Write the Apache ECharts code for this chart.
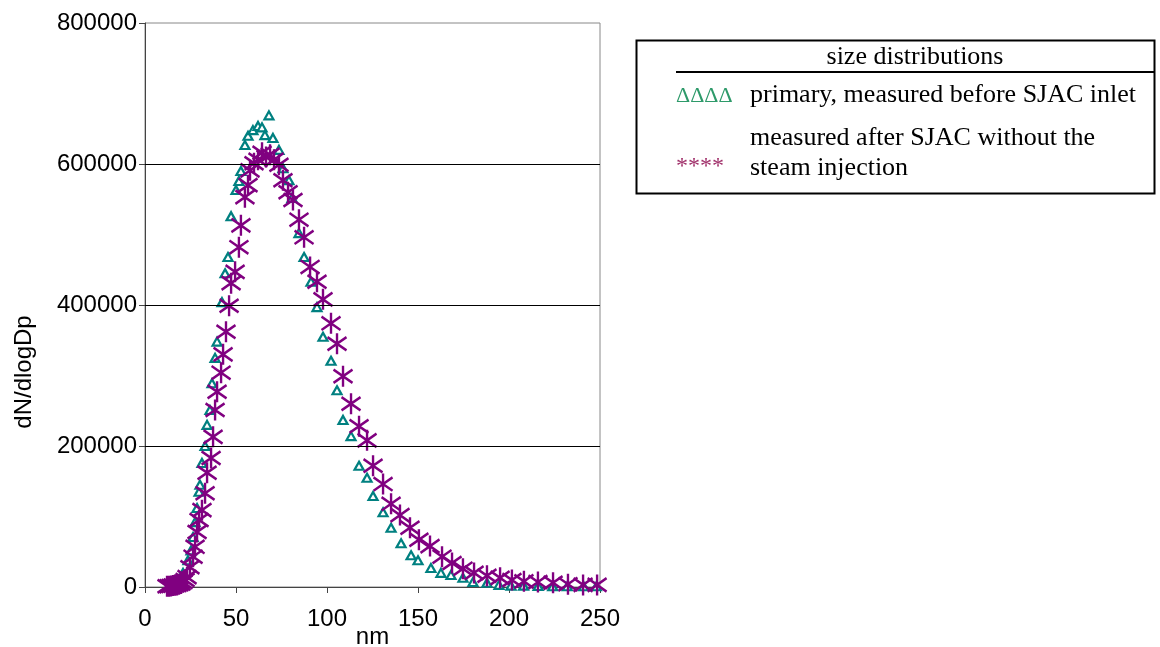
<!DOCTYPE html>
<html>
  <head>
    <meta charset="utf-8" />
    <title>size distributions</title>
    <script src="https://cdn.jsdelivr.net/npm/echarts@6.0.0/dist/echarts.min.js"></script>
  </head>
  <body style="margin: 0">
    <div id="main" style="width: 1160px; height: 647px"></div>
    <script type="text/javascript">
      // primary, measured before SJAC inlet (triangles)
      var primaryNm = [13.7, 16, 18.1, 20.9, 23.6, 25.3, 26.4, 27.5, 28.6, 29.7, 30.2, 31.3, 33, 34.1, 35.7, 36.8, 38.5, 39.6, 42.3, 44, 45.6, 47.3, 50, 51.6, 52.7, 54.9, 56.6, 59.3, 62.1, 64.3, 65.9, 68.1, 70.3, 73.6, 75.8, 79.1, 80.8, 84.6, 87.4, 91.2, 94.5, 97.8, 102.2, 105.5, 108.8, 113.2, 117.6, 122, 125.3, 130.8, 135.2, 140.7, 146.2, 150, 157.1, 162.6, 168.1, 174.7, 180.2, 187.9, 194.5, 201.1, 208, 216, 224, 232, 241, 248];
      var primaryN = [3000, 6000, 10000, 20000, 38000, 52000, 71000, 92000, 112000, 135000, 145000, 176000, 200000, 230000, 251000, 289000, 325000, 348000, 404000, 445000, 468000, 526000, 563000, 576000, 590000, 627000, 640000, 648000, 654000, 652000, 641000, 669000, 637000, 620000, 594000, 577000, 552000, 502000, 468000, 433000, 397000, 355000, 321000, 279000, 237000, 214000, 172000, 155000, 129000, 106000, 84000, 62000, 45000, 38000, 27000, 20000, 17000, 13000, 7000, 6000, 3000, 2000, 2000, 1500, 1000, 1000, 1000, 1000];

      // measured after SJAC without the steam injection (asterisks)
      var afterNm = [12.1, 13.2, 14.3, 15.4, 16.5, 17.6, 18.7, 19.8, 20.9, 22, 23.1, 24.7, 26.4, 27.5, 28.6, 29.7, 31.3, 33, 34.1, 36.3, 37.4, 38.5, 39.6, 41.8, 42.9, 44.5, 46.2, 47.3, 49.5, 51.6, 52.7, 54.9, 56.6, 57.7, 59.9, 62.1, 64.3, 66.5, 68.7, 70.9, 73.6, 75.8, 78.6, 81.3, 84.6, 87.4, 90.7, 94.5, 97.8, 102.2, 105.5, 108.8, 113.2, 117.6, 122, 125.3, 130.8, 135.2, 140.1, 145.6, 150.5, 156.6, 163.2, 168.7, 174.7, 180.8, 187.9, 195.1, 201.6, 208.2, 215.9, 224.2, 232.4, 240.7, 248.4];
      var afterN = [1000, 1000, 1500, 2000, 2500, 3000, 4000, 5000, 7000, 10000, 14000, 28000, 43000, 57000, 78000, 95000, 109000, 133000, 162000, 183000, 213000, 251000, 277000, 304000, 330000, 362000, 399000, 431000, 447000, 482000, 513000, 553000, 570000, 591000, 601000, 606000, 616000, 610000, 613000, 606000, 599000, 577000, 560000, 549000, 521000, 496000, 454000, 433000, 408000, 374000, 345000, 299000, 260000, 228000, 208000, 172000, 146000, 118000, 102000, 84000, 67000, 58000, 43000, 34000, 26000, 20000, 16000, 13000, 10000, 8000, 7000, 6000, 4000, 3000, 3000];

      var xTicks = [0, 50, 100, 150, 200, 250];
      var yTicks = [0, 200000, 400000, 600000, 800000];
      var gridLevels = [200000, 400000, 600000];

      var yName = "dN/dlogDp";
      var legendTitle = "size distributions";
      var legendRow1 = "primary, measured before SJAC inlet";
      var legendRow2a = "measured after SJAC without the";
      var legendRow2b = "steam injection";

      function pairs(xs, ys) {
        return xs.map(function (x, i) {
          return [x, ys[i]];
        });
      }

      var myChart = echarts.init(document.getElementById("main"));
      var sans = "Liberation Sans, Arial, sans-serif";
      var serif = "Liberation Serif, Times New Roman, serif";

      var option = {
        animation: false,
        backgroundColor: "#fff",
        grid: {
          left: 145,
          right: 560,
          top: 23,
          bottom: 60,
          show: true,
          borderColor: "#888",
          borderWidth: 1,
          containLabel: false,
          outerBoundsMode: "none",
        },
        xAxis: {
          type: "value",
          min: xTicks[0],
          max: xTicks[xTicks.length - 1],
          interval: 50,
          name: "nm",
          nameLocation: "middle",
          nameGap: 38,
          nameMoveOverlap: false,
          nameTextStyle: { fontFamily: sans, fontSize: 24, color: "#000" },
          axisLine: { show: true, lineStyle: { color: "#444", width: 1 } },
          axisTick: { show: true, length: 6, lineStyle: { color: "#444" } },
          axisLabel: { fontFamily: sans, fontSize: 24, color: "#000", margin: 20 },
          splitLine: { show: false },
        },
        yAxis: {
          type: "value",
          min: yTicks[0],
          max: yTicks[yTicks.length - 1],
          interval: 200000,
          axisLine: { show: true, lineStyle: { color: "#444", width: 1 } },
          axisTick: { show: true, length: 6, lineStyle: { color: "#444" } },
          axisLabel: {
            fontFamily: sans,
            fontSize: 24,
            color: "#000",
            margin: 8,
            formatter: function (v) {
              return String(v);
            },
          },
          splitLine: { show: false },
        },
        series: [
          {
            name: "gridlines",
            type: "line",
            data: [],
            silent: true,
            markLine: {
              silent: true,
              symbol: "none",
              label: { show: false },
              lineStyle: { color: "#000", width: 1, type: "solid" },
              data: gridLevels.map(function (v) {
                return { yAxis: v };
              }),
            },
          },
          {
            name: legendRow1,
            type: "scatter",
            data: pairs(primaryNm, primaryN),
            symbol: "triangle",
            symbolSize: [9, 8],
            itemStyle: { color: "#fff", borderColor: "#008080", borderWidth: 2.2, opacity: 1 },
            z: 3,
          },
          {
            name: legendRow2a,
            type: "scatter",
            data: pairs(afterNm, afterN),
            symbol: "path://M10,0L10,22M0,4L20,18M0,18L20,4",
            symbolSize: [19, 21],
            itemStyle: { color: "none", borderColor: "#800080", borderWidth: 2.5, opacity: 1 },
            z: 4,
          },
        ],
        graphic: [
          {
            type: "text",
            x: 24,
            y: 372,
            rotation: Math.PI / 2,
            style: { text: yName, font: "24px " + sans, fill: "#000", align: "center", verticalAlign: "middle" },
          },
          {
            type: "rect",
            shape: { x: 636.5, y: 40.5, width: 518, height: 153 },
            style: { fill: "#fff", stroke: "#000", lineWidth: 2 },
          },
          {
            type: "text",
            x: 915,
            y: 57,
            style: { text: legendTitle, font: "26px " + serif, fill: "#000", align: "center", verticalAlign: "middle" },
          },
          {
            type: "line",
            shape: { x1: 676, y1: 72, x2: 1155, y2: 72 },
            style: { stroke: "#000", lineWidth: 2 },
          },
          {
            type: "text",
            x: 676,
            y: 96,
            style: { text: "\u0394\u0394\u0394\u0394", font: "22px " + serif, fill: "#2e9a6a", verticalAlign: "middle" },
          },
          {
            type: "text",
            x: 750,
            y: 95,
            style: { text: legendRow1, font: "26px " + serif, fill: "#000", verticalAlign: "middle" },
          },
          {
            type: "text",
            x: 750,
            y: 138,
            style: { text: legendRow2a, font: "26px " + serif, fill: "#000", verticalAlign: "middle" },
          },
          {
            type: "text",
            x: 676,
            y: 167,
            style: { text: "****", font: "24px " + serif, fill: "#a0306a", verticalAlign: "middle" },
          },
          {
            type: "text",
            x: 750,
            y: 168,
            style: { text: legendRow2b, font: "26px " + serif, fill: "#000", verticalAlign: "middle" },
          },
        ],
      };

      myChart.setOption(option);
    </script>
  </body>
</html>
